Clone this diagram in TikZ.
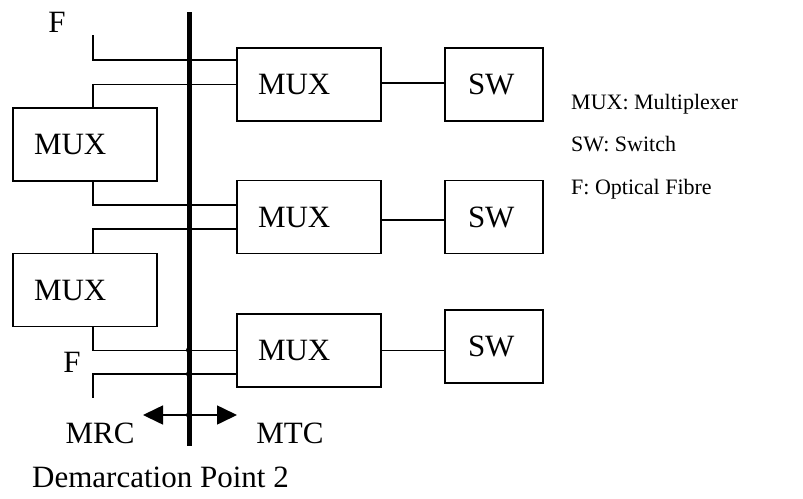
\documentclass[tikz,border=0pt]{standalone}
\usepackage{fontspec}
\setmainfont{Liberation Serif}
\usepackage{tikz}
\usetikzlibrary{arrows.meta, positioning}

\tikzset{
  muxbox/.style={draw, line width=1.6pt, minimum height=73pt, text width=102pt,
    inner xsep=21pt, align=left, font=\fontsize{31}{36}\selectfont},
  swbox/.style={draw, line width=1.6pt, minimum height=73pt, text width=52pt,
    inner xsep=23pt, align=left, font=\fontsize{31}{36}\selectfont},
  fibre/.style={line width=1.6pt},
  bar/.style={line width=5pt},
  lbl/.style={font=\fontsize{31}{36}\selectfont, inner sep=0pt, anchor=base},
  legend/.style={font=\fontsize{22}{26}\selectfont, inner sep=0pt, anchor=base west},
}

\begin{document}
\begin{tikzpicture}[x=1pt, y=-1pt, >=Stealth]
  \useasboundingbox (0,0) rectangle (803,498);

  % ---- Multiplexers and switches ----
  \node[muxbox] (mux1) at (309,84.5) {MUX};
  \node[muxbox] (mux2) at (309,217)  {MUX};
  \node[muxbox] (mux3) at (309,350.5) {MUX};
  \node[muxbox] (left1) at (85,144.5) {MUX};
  \node[muxbox] (left2) at (85,290)   {MUX};
  \node[swbox] (sw1) at (494,84.5)  {SW};
  \node[swbox] (sw2) at (494,217)   {SW};
  \node[swbox] (sw3) at (494,346.5) {SW};

  % ---- Demarcation line ----
  \coordinate (dtop) at (189,12);
  \coordinate (dbot) at (189,446);
  \draw[bar] (dtop) -- (dbot);

  % ---- Optical fibre chain ----
  \coordinate (fin)  at (93,35);
  \coordinate (fout) at (93,398);
  \draw[fibre] (fin) |- ([yshift=24.5pt]mux1.west);
  \draw[fibre] (mux1.west) -| ([xshift=8pt]left1.north);
  \draw[fibre] ([xshift=8pt]left1.south) |- ([yshift=12pt]mux2.west);
  \draw[fibre] ([yshift=-12pt]mux2.west) -| ([xshift=8pt]left2.north);
  \draw[fibre] ([xshift=8pt]left2.south) |- (mux3.west);
  \draw[fibre] ([yshift=-23.5pt]mux3.west) -| (fout);
  \node[lbl] (ftoplbl) at (57,32)  {F};
  \node[lbl] (fbotlbl) at (72,372) {F};

  % ---- MUX to SW links ----
  \draw[fibre] ([yshift=1.5pt]mux1.east) -- ([yshift=1.5pt]mux1.east -| sw1.west);
  \draw[fibre] ([yshift=-3pt]mux2.east) -- ([yshift=-3pt]mux2.east -| sw2.west);
  \draw[fibre] (mux3.east) -- (mux3.east -| sw3.west);

  % ---- Responsibility arrows ----
  \coordinate (mrcend) at (143,415);
  \coordinate (mtcend) at (237,415);
  \draw[fibre, {Triangle[length=20pt,width=19pt]}-{Triangle[length=20pt,width=19pt]}] (mrcend) -- (mtcend);
  \foreach \yy in {350,374,415}
    \fill (189,\yy) circle (3pt);
  \node[lbl] (mrc) at (100,443) {MRC};
  \node[lbl] (mtc) at (290,443) {MTC};
  \node[lbl, anchor=base west] (dp) at (32,487) {Demarcation Point 2};

  % ---- Legend ----
  \node[legend] (leg1) at (571,109) {MUX: Multiplexer};
  \node[legend] (leg2) at (571,151) {SW: Switch};
  \node[legend] (leg3) at (571,194) {F: Optical Fibre};
\end{tikzpicture}
\end{document}
